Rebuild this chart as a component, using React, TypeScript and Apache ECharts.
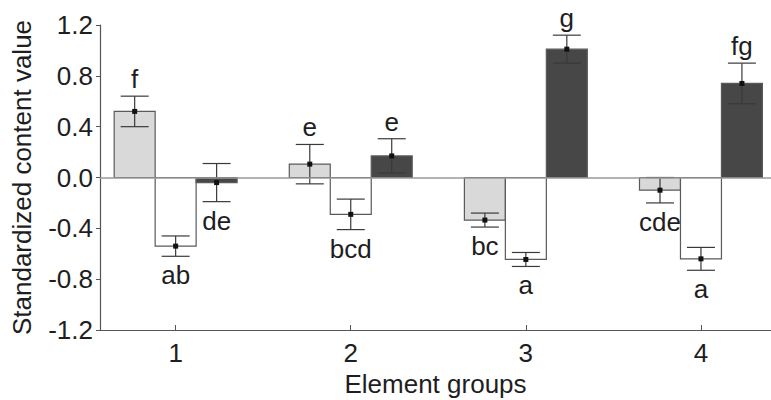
import React, { useEffect, useRef } from "react";
import * as echarts from "echarts";

// ---- Data ----
const groups = [1, 2, 3, 4];
const groupTickValues = [1, 2, 3, 4];

const lightValues = [0.52, 0.105, -0.335, -0.1];
const lightErrors = [0.12, 0.155, 0.055, 0.1];
const lightLetters = ["f", "e", "bc", "cde"];

const whiteValues = [-0.54, -0.29, -0.645, -0.64];
const whiteErrors = [0.08, 0.12, 0.055, 0.09];
const whiteLetters = ["ab", "bcd", "a", "a"];

const darkValues = [-0.04, 0.17, 1.01, 0.74];
const darkErrors = [0.15, 0.135, 0.11, 0.16];
const darkLetters = ["de", "e", "g", "fg"];

const yMin = -1.2;
const yMax = 1.2;
const yInterval = 0.4;

// ---- Styles ----
const FONT = '"Liberation Sans", Arial, sans-serif';
const BAR_W = 0.234; // bar width in x-axis units
const CAP_W = 28;
const TEXT_COLOR = "#1e1e1e";

const seriesDefs = [
  { name: "light", values: lightValues, errors: lightErrors, letters: lightLetters, offset: -1, fill: "#d9d9d9" },
  { name: "white", values: whiteValues, errors: whiteErrors, letters: whiteLetters, offset: 0, fill: "#ffffff" },
  { name: "dark", values: darkValues, errors: darkErrors, letters: darkLetters, offset: 1, fill: "#474747" },
];

export default function App() {
  const ref = useRef<HTMLDivElement>(null);

  useEffect(() => {
    if (!ref.current) return;
    const chart = echarts.init(ref.current, undefined, { renderer: "svg" });

    const series: any[] = seriesDefs.map((def, si) => ({
      type: "custom",
      name: def.name,
      clip: false,
      data: groups.map((g, i) => [g, def.values[i], def.errors[i], i]),
      renderItem: (params: any, api: any) => {
        const gx = api.value(0);
        const v = api.value(1);
        const e = api.value(2);
        const idx = api.value(3);
        const w = api.size([BAR_W, 0])[0];
        const base = api.coord([gx, 0]);
        const cx = base[0] + def.offset * w;
        const y0 = base[1];
        const yv = api.coord([gx, v])[1];
        const yTop = api.coord([gx, v + e])[1];
        const yBot = api.coord([gx, v - e])[1];
        const positive = v >= 0;
        return {
          type: "group",
          children: [
            {
              type: "rect",
              shape: { x: cx - w / 2, y: Math.min(y0, yv), width: w, height: Math.abs(yv - y0) },
              style: { fill: def.fill, stroke: "#5a5a5a", lineWidth: 1.2 },
            },
            {
              type: "line",
              shape: { x1: cx, y1: yTop, x2: cx, y2: yBot },
              style: { stroke: "#3a3a3a", lineWidth: 1.2 },
            },
            {
              type: "line",
              shape: { x1: cx - CAP_W / 2, y1: yTop, x2: cx + CAP_W / 2, y2: yTop },
              style: { stroke: "#3a3a3a", lineWidth: 1.2 },
            },
            {
              type: "line",
              shape: { x1: cx - CAP_W / 2, y1: yBot, x2: cx + CAP_W / 2, y2: yBot },
              style: { stroke: "#3a3a3a", lineWidth: 1.2 },
            },
            {
              type: "rect",
              shape: { x: cx - 2.5, y: yv - 2.5, width: 5, height: 5 },
              style: { fill: "#111111" },
            },
            {
              type: "text",
              x: cx,
              y: positive ? yTop - 4 : yBot + 6,
              style: {
                text: def.letters[idx],
                fill: TEXT_COLOR,
                font: `26px ${FONT}`,
                align: "center",
                verticalAlign: positive ? "bottom" : "top",
              },
            },
          ],
        };
      },
      markLine:
        si === 0
          ? {
              silent: true,
              symbol: ["none", "none"],
              label: { show: false },
              lineStyle: { color: "#9a9a9a", type: "solid", width: 1.5 },
              data: [{ yAxis: 0 }],
            }
          : undefined,
    }));

    chart.setOption({
      animation: false,
      backgroundColor: "#ffffff",
      textStyle: { fontFamily: FONT },
      grid: { left: 100, right: 0, top: 25, bottom: 70, containLabel: false, outerBoundsMode: "none" },
      xAxis: {
        type: "value",
        min: 0.568,
        max: 4.4,
        name: "Element groups",
        nameLocation: "middle",
        nameGap: 40,
        nameTextStyle: { fontSize: 26, color: TEXT_COLOR, fontFamily: FONT },
        axisLine: { show: true, onZero: false, lineStyle: { color: "#555555", width: 1.2 } },
        axisTick: { show: true, inside: true, length: 5, customValues: groupTickValues, lineStyle: { color: "#555555" } },
        axisLabel: { fontSize: 26, color: TEXT_COLOR, margin: 10, customValues: groupTickValues, fontFamily: FONT },
        splitLine: { show: false },
      },
      yAxis: {
        type: "value",
        min: yMin,
        max: yMax,
        interval: yInterval,
        name: "Standardized content value",
        nameLocation: "middle",
        nameRotate: 90,
        nameGap: 65,
        nameTextStyle: { fontSize: 26, color: TEXT_COLOR, fontFamily: FONT },
        axisLine: { show: true, lineStyle: { color: "#555555", width: 1.2 } },
        axisTick: { show: true, inside: false, length: 4, lineStyle: { color: "#555555" } },
        axisLabel: {
          fontSize: 26,
          color: TEXT_COLOR,
          margin: 7,
          fontFamily: FONT,
          formatter: (val: number) => val.toFixed(1),
        },
        splitLine: { show: false },
      },
      series,
    });

    return () => chart.dispose();
  }, []);

  return (
    <div
      ref={ref}
      style={{ position: "fixed", left: 0, top: 0, width: 771, height: 400, background: "#fff" }}
    />
  );
}
